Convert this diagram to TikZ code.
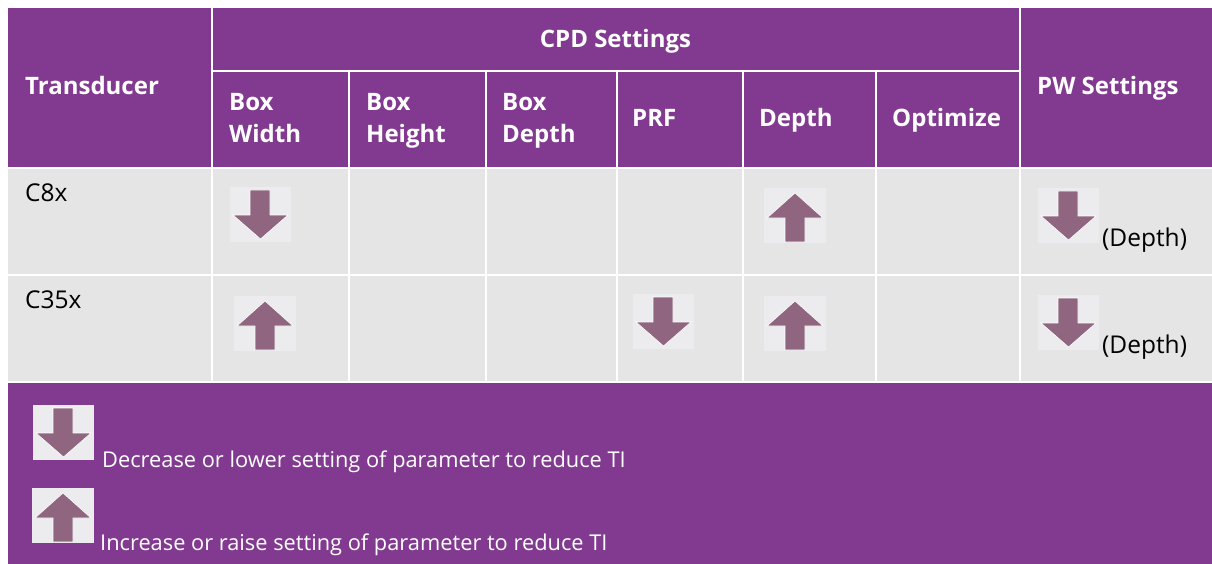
\documentclass[tikz,border=0pt]{standalone}
\usepackage{fontspec}
\setmainfont{Open Sans}
\definecolor{hdr}{HTML}{823A91}
\definecolor{cellg}{HTML}{E5E5E5}
\definecolor{iconbg}{HTML}{ECECEF}
\definecolor{arr}{HTML}{8F6580}
\begin{document}
\begin{tikzpicture}[x=1pt,y=-1pt,
  hd/.style={font=\fontsize{24}{28}\selectfont\bfseries, text=white, inner sep=0pt, anchor=base west},
  bd/.style={font=\fontsize{24.5}{28}\selectfont, text=black, inner sep=0pt, anchor=base west},
  lg/.style={font=\fontsize{21.8}{24}\selectfont, text=white, inner sep=0pt, anchor=base west},
  gridline/.style={white, line width=2pt},
  downicon/.pic={
    \fill[iconbg] (0,0) rectangle (61,55);
    \filldraw[fill=arr, draw=white, line width=0.6pt] (20,3) -- (40,3) -- (40,28) -- (58,28) -- (30.5,52) -- (3,28) -- (20,28) -- cycle;
  },
  upicon/.pic={
    \fill[iconbg] (0,0) rectangle (62,55);
    \filldraw[fill=arr, draw=white, line width=0.6pt] (31,5) -- (59,30) -- (41,30) -- (41,54) -- (21,54) -- (21,30) -- (3,30) -- cycle;
  }]
\useasboundingbox (0,0) rectangle (1212,564);
\fill[white] (0,0) rectangle (1212,564);
% regions
\fill[hdr] (8,8) rectangle (1212,168);
\fill[cellg] (8,168) rectangle (1212,382);
\fill[hdr] (8,382) rectangle (1212,564);
% grid
\draw[gridline] (211.7,71.5) -- (1020,71.5);
\draw[gridline] (8,168) -- (1212,168);
\draw[gridline] (8,275) -- (1212,275);
\draw[gridline] (8,382) -- (1212,382);
\draw[gridline] (211.7,8) -- (211.7,382);
\draw[gridline] (1020,8) -- (1020,382);
\foreach \cx in {349.3,485.5,616.7,743.3,876}
  \draw[gridline] (\cx,71.5) -- (\cx,382);
% header text
\node[hd] (tr) at (25,95) {Transducer};
\node[hd, anchor=base] (cpd) at (615.5,48) {CPD Settings};
\node[hd] (bw1) at (229,111) {Box};
\node[hd] (bw2) at (229,143) {Width};
\node[hd] (bh1) at (366,111) {Box};
\node[hd] (bh2) at (366,143) {Height};
\node[hd] (bdp1) at (502,111) {Box};
\node[hd] (bdp2) at (502,143) {Depth};
\node[hd] (prf) at (632,127) {PRF};
\node[hd] (dep) at (759,127) {Depth};
\node[hd] (opt) at (892,127) {Optimize};
\node[hd] (pw) at (1037,95) {PW Settings};
% body text
\node[bd] (c8) at (25,201) {C8x};
\node[bd] (c35) at (25,308) {C35x};
\node[bd] (dd1) at (1102,246) {(Depth)};
\node[bd] (dd2) at (1102,353) {(Depth)};
% icons
\pic (i1) at (230,187) {downicon};
\pic (i2) at (764,188) {upicon};
\pic (i3) at (1038,188) {downicon};
\pic (i4) at (234,296) {upicon};
\pic (i5) at (633,294) {downicon};
\pic (i6) at (764,296) {upicon};
\pic (i7) at (1038,295) {downicon};
\pic (i8) at (33,405) {downicon};
\pic (i9) at (32,488) {upicon};
% legend
\node[lg] (lg1) at (102,467) {Decrease or lower setting of parameter to reduce TI};
\node[lg] (lg2) at (100,550) {Increase or raise setting of parameter to reduce TI};
\end{tikzpicture}
\end{document}
